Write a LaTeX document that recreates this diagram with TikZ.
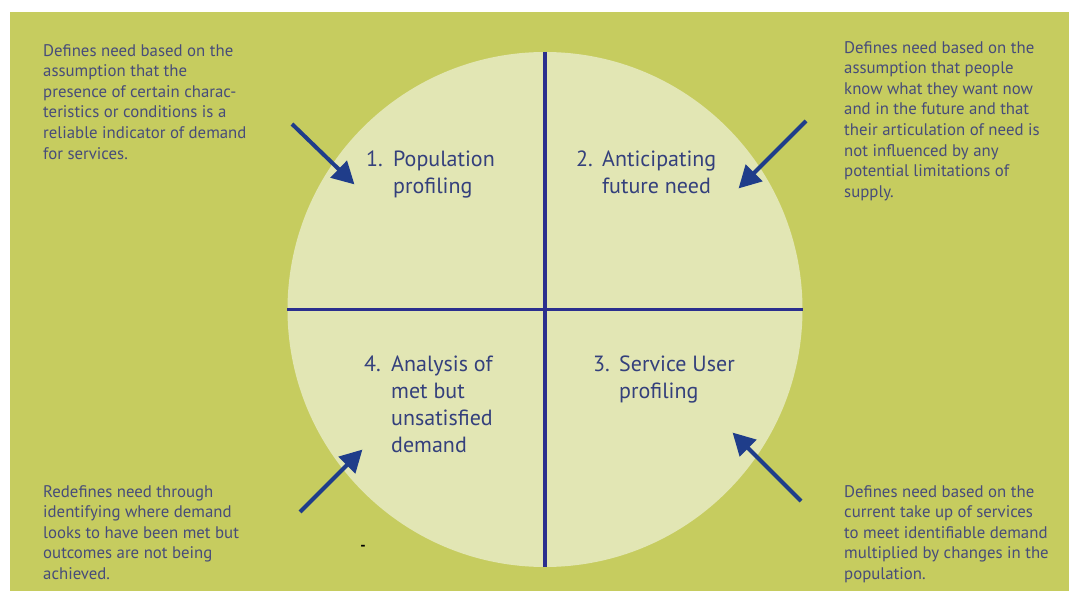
\documentclass[tikz,border=0pt]{standalone}
\usepackage{fontspec}
\setmainfont{PT Sans}
\usetikzlibrary{arrows.meta}
\definecolor{fieldgreen}{HTML}{C6CC5F}
\definecolor{discfill}{HTML}{E2E6B4}
\definecolor{bodyink}{HTML}{474C7A}
\definecolor{headink}{HTML}{34407C}
\definecolor{divider}{HTML}{2B2F8E}
\definecolor{pointer}{HTML}{1F3D8A}
\tikzset{
  note/.style={anchor=north west, inner sep=0pt, align=left, text=bodyink,
    font=\fontsize{16.8}{20.6}\selectfont},
  quadlabel/.style={anchor=base west, inner sep=0pt, text=headink,
    font=\fontsize{22}{27}\selectfont},
  divline/.style={draw=divider, line width=3.6pt},
  pointerarrow/.style={draw=pointer, line width=4pt,
    -{Triangle[length=22pt, width=23pt]}, shorten >=-2pt}
}
\newcommand{\quadtext}[2]{\begin{tabular}[t]{@{}p{#1}@{}l@{}}#2\end{tabular}}
\begin{document}
\begin{tikzpicture}[x=1pt, y=-1pt]
  \useasboundingbox (0,0) rectangle (1069,591);
  % background field
  \fill[fieldgreen] (10,12) rectangle (1069,591);
  % central disc and its quadrant dividers
  \node[circle, fill=discfill, minimum size=515pt, inner sep=0pt] (disc) at (545,309.5) {};
  \draw[divline] (disc.north) -- (disc.south);
  \draw[divline] (disc.west) -- (disc.east);

  % quadrant headings
  \node[quadlabel] (q1) at (366,167) {\quadtext{27pt}{1.&Population\\&profiling}};
  \node[quadlabel] (q2) at (576,167) {\quadtext{26pt}{2.&Anticipating\\&future need}};
  \node[quadlabel] (q3) at (593,371) {\quadtext{26pt}{3.&Service User\\&profiling}};
  \node[quadlabel] (q4) at (364,371) {\quadtext{27pt}{4.&Analysis of\\&met but\\&unsatisfied\\&demand}};

  % corner descriptions
  \node[note] (n1) at (43,44) {Defines need based on the\\assumption that the\\presence of certain charac-\\teristics or conditions is a\\reliable indicator of demand\\for services.};
  \node[note] (n2) at (844,41) {Defines need based on the\\assumption that people\\know what they want now\\and in the future and that\\their articulation of need is\\not influenced by any\\potential limitations of\\supply.};
  \node[note] (n4) at (43,485) {Redefines need through\\identifying where demand\\looks to have been met but\\outcomes are not being\\achieved.};
  \node[note] (n3) at (844,485) {Defines need based on the\\current take up of services\\to meet identifiable demand\\multiplied by changes in the\\population.};

  % stray mark
  \node[inner sep=0pt, text=black, font=\bfseries\fontsize{15}{15}\selectfont] (mark) at (363,548) {-};

  % pointers into the disc
  \coordinate (t1) at (292,124);  \coordinate (h1) at (353,183);
  \coordinate (t2) at (806,121);  \coordinate (h2) at (740,187);
  \coordinate (t3) at (801,501);  \coordinate (h3) at (734,434);
  \coordinate (t4) at (300,512);  \coordinate (h4) at (361,451);
  \draw[pointerarrow] (t1) -- (h1);
  \draw[pointerarrow] (t2) -- (h2);
  \draw[pointerarrow] (t3) -- (h3);
  \draw[pointerarrow] (t4) -- (h4);
\end{tikzpicture}
\end{document}
